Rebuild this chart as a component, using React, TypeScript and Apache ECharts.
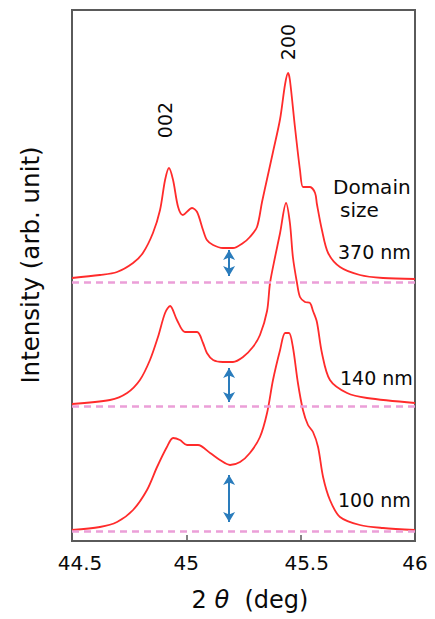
import React, { useEffect, useRef } from "react";
import * as echarts from "echarts";

// 2θ positions (deg) and intensities (arb. unit, relative to each baseline)
const x370 = [44.5, 44.622, 44.697, 44.767, 44.81, 44.854, 44.885, 44.907, 44.924, 44.942, 44.964, 44.985, 45.025, 45.047, 45.073, 45.09, 45.117, 45.16, 45.204, 45.248, 45.278, 45.309, 45.331, 45.353, 45.379, 45.41, 45.432, 45.445, 45.453, 45.475, 45.497, 45.51, 45.528, 45.541, 45.563, 45.571, 45.593, 45.62, 45.672, 45.759, 45.86, 46.0];
const i370 = [4, 7, 10, 19, 29, 49, 72, 102, 114, 102, 75, 67, 74, 70, 52, 42, 37, 34, 34, 39, 45, 55, 80, 103, 130, 163, 198, 209, 202, 155, 112, 95, 95, 95, 89, 78, 52, 29, 15, 7, 4, 3];

const x140 = [44.5, 44.666, 44.741, 44.797, 44.841, 44.876, 44.907, 44.929, 44.959, 44.994, 45.047, 45.073, 45.09, 45.117, 45.16, 45.204, 45.248, 45.291, 45.322, 45.353, 45.366, 45.388, 45.41, 45.436, 45.453, 45.466, 45.484, 45.497, 45.519, 45.541, 45.554, 45.571, 45.593, 45.628, 45.703, 45.79, 46.0];
const i140 = [2, 6, 13, 26, 46, 69, 93, 100, 86, 74, 74, 63, 53, 46, 44, 44, 49, 59, 71, 95, 123, 149, 173, 203, 183, 149, 123, 109, 104, 103, 95, 84, 53, 26, 13, 8, 3];

const x100 = [44.5, 44.622, 44.697, 44.767, 44.828, 44.872, 44.915, 44.942, 44.972, 45.003, 45.051, 45.104, 45.147, 45.191, 45.235, 45.278, 45.322, 45.353, 45.379, 45.41, 45.432, 45.449, 45.466, 45.488, 45.51, 45.532, 45.554, 45.576, 45.598, 45.628, 45.672, 45.759, 45.86, 46.0];
const i100 = [1, 4, 9, 21, 41, 64, 84, 93, 91, 86, 86, 78, 71, 66, 69, 78, 94, 118, 151, 181, 198, 198, 184, 148, 121, 106, 99, 84, 54, 31, 14, 6, 3, 1];

const domainSizes = ["370 nm", "140 nm", "100 nm"];
const offsets = [259, 135, 10]; // vertical offset of each trace
const arrowX = 45.187;
const arrowTops = [32, 38, 56]; // above each baseline
const arrowBottoms = [6, 4, 9];
const xTicks = [44.5, 45, 45.5, 46];

const curves = [
  { x: x370, y: i370 },
  { x: x140, y: i140 },
  { x: x100, y: i100 },
];

const FONT = "DejaVu Sans";
const INK = "#0a0a0a";

export default function App() {
  const ref = useRef<HTMLDivElement>(null);
  useEffect(() => {
    if (!ref.current) return;
    const chart = echarts.init(ref.current, null, { renderer: "svg" });
    const series: any[] = curves.map((c, k) => ({
      type: "line",
      name: domainSizes[k],
      data: c.x.map((v, i) => [v, c.y[i] + offsets[k]]),
      showSymbol: false,
      smooth: 0.3,
      lineStyle: { color: "#ff2b2b", width: 1.8 },
      z: 3,
    }));
    series.push({
      type: "line",
      data: [],
      silent: true,
      markLine: {
        silent: true,
        symbol: ["none", "none"],
        label: { show: false },
        lineStyle: { color: "#eb9fd8", width: 2.5, type: [7, 5] },
        data: offsets.map((o) => ({ yAxis: o })),
      },
      z: 2,
    });
    series.push({
      type: "line",
      data: [],
      silent: true,
      markLine: {
        silent: true,
        symbol: ["arrow", "arrow"],
        symbolSize: [9, 10],
        label: { show: false },
        lineStyle: { color: "#2a7cbc", width: 2, type: "solid" },
        data: offsets.map((o, k) => [
          { coord: [arrowX, o + arrowTops[k]] },
          { coord: [arrowX, o + arrowBottoms[k]] },
        ]),
      },
      z: 4,
    });

    const txt = (text: string, x: number, y: number, size: number, extra: any = {}) => ({
      type: "text",
      x,
      y,
      style: {
        text,
        fontFamily: FONT,
        fontSize: size,
        fill: INK,
        textAlign: "left",
        textVerticalAlign: "middle",
        ...extra,
      },
    });

    chart.setOption({
      animation: false,
      backgroundColor: "#fff",
      grid: {
        left: 72,
        right: 20,
        top: 10,
        bottom: 78,
        show: true,
        borderColor: "#5a5a5a",
        borderWidth: 2,
        backgroundColor: "transparent",
      },
      xAxis: {
        type: "value",
        min: 44.5,
        max: 46,
        interval: 0.5,
        axisLine: { show: false },
        axisTick: { show: true, inside: true, length: 6, lineStyle: { color: "#5a5a5a", width: 1.5 } },
        splitLine: { show: false },
        axisLabel: {
          margin: 12,
          color: INK,
          fontFamily: FONT,
          fontSize: 20,
          formatter: (v: number) => {
            const s = String(v);
            if (v === xTicks[0]) return "{a|" + s + "}";
            if (v === xTicks[2]) return "{b|" + s + "}";
            return s;
          },
          rich: {
            a: { fontFamily: FONT, fontSize: 20, color: INK, padding: [0, 0, 0, 16] },
            b: { fontFamily: FONT, fontSize: 20, color: INK, padding: [0, 0, 0, 12] },
          },
        },
      },
      yAxis: {
        type: "value",
        min: 0,
        max: 531,
        show: false,
        splitLine: { show: false },
      },
      graphic: [
        {
          type: "text",
          x: 30,
          y: 265,
          rotation: Math.PI / 2,
          style: {
            text: "Intensity (arb. unit)",
            fontFamily: FONT,
            fontSize: 24.5,
            fill: INK,
            textAlign: "center",
            textVerticalAlign: "middle",
          },
        },
        {
          type: "text",
          x: 250,
          y: 600,
          style: {
            text: "{n|2 }{t|θ}{n|  (deg)}",
            rich: {
              n: { fontFamily: FONT, fontSize: 24, fill: INK },
              t: { fontFamily: FONT, fontSize: 24, fontStyle: "italic", fill: INK },
            },
            textAlign: "center",
            textVerticalAlign: "middle",
          },
        },
        {
          type: "text",
          x: 165,
          y: 120,
          rotation: Math.PI / 2,
          style: { text: "002", fontFamily: FONT, fontSize: 19, fill: INK, textAlign: "center", textVerticalAlign: "middle" },
        },
        {
          type: "text",
          x: 288,
          y: 42,
          rotation: Math.PI / 2,
          style: { text: "200", fontFamily: FONT, fontSize: 19, fill: INK, textAlign: "center", textVerticalAlign: "middle" },
        },
        txt("Domain", 333, 187, 20),
        txt("size", 340, 210, 20),
        txt(domainSizes[0], 338, 252, 19),
        txt(domainSizes[1], 340, 378, 19),
        txt(domainSizes[2], 338, 500, 19),
      ],
      series,
    });
    return () => chart.dispose();
  }, []);
  return (
    <div
      ref={ref}
      style={{ position: "fixed", left: 0, top: 0, width: 435, height: 619, background: "#fff" }}
    />
  );
}
